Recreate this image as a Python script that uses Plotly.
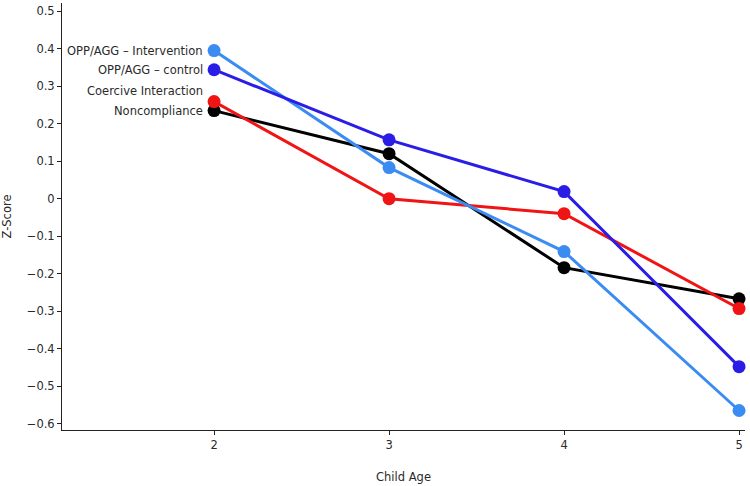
import plotly.graph_objects as go

ages = [2, 3, 4, 5]

opp_intervention = [0.395, 0.083, -0.141, -0.565]
opp_control = [0.344, 0.157, 0.019, -0.448]
coercive = [0.259, 0.0, -0.040, -0.293]
noncompliance = [0.235, 0.120, -0.184, -0.267]

y_ticks = [0.5, 0.4, 0.3, 0.2, 0.1, 0, -0.1, -0.2, -0.3, -0.4, -0.5, -0.6]
y_tick_text = ["0.5", "0.4", "0.3", "0.2", "0.1", "0",
               "\u22120.1", "\u22120.2", "\u22120.3", "\u22120.4", "\u22120.5", "\u22120.6"]

# drawing order: later traces sit on top
series = [
    ("Noncompliance", noncompliance, "#000000", 0),
    ("Coercive Interaction", coercive, "#f01414", 11),
    ("OPP/AGG \u2013 Intervention", opp_intervention, "#3b8cf2", 0),
    ("OPP/AGG \u2013 control", opp_control, "#2a1ee6", 0),
]

FONT = "DejaVu Sans"
TXT = "#2a2a2a"

fig = go.Figure()
for name, vals, color, shift in series:
    fig.add_trace(go.Scatter(
        x=ages, y=vals, name=name, mode="lines+markers",
        line=dict(color=color, width=3),
        marker=dict(color=color, size=13),
        cliponaxis=False,
    ))
    # label sits just left of the first point
    fig.add_annotation(
        x=ages[0], y=vals[0], text=name, showarrow=False,
        xanchor="right", yanchor="middle", xshift=-9, yshift=shift,
        font=dict(family=FONT, size=11.5, color=TXT),
    )

fig.update_layout(
    width=750, height=486,
    margin=dict(l=62, r=5, t=3, b=56),
    plot_bgcolor="white", paper_bgcolor="white",
    showlegend=False,
    font=dict(family=FONT, size=11.5, color=TXT),
)
fig.update_xaxes(
    range=[1.131, 5.034], tickvals=ages, ticktext=[str(a) for a in ages],
    showgrid=False, zeroline=False, showline=True, linecolor="#222", linewidth=1,
    ticks="outside", ticklen=4, tickcolor="#222",
    title=dict(text="Child Age", standoff=22, font=dict(family=FONT, size=11.5)),
)
fig.update_yaxes(
    range=[-0.617, 0.522], tickvals=y_ticks, ticktext=y_tick_text,
    showgrid=False, zeroline=False, showline=True, linecolor="#222", linewidth=1,
    ticks="outside", ticklen=4, tickcolor="#222",
    title=dict(text="Z-Score", standoff=16, font=dict(family=FONT, size=11.5)),
)

fig.write_html("out.html", config={"displayModeBar": False},
               post_script="document.body.style.margin='0';")
